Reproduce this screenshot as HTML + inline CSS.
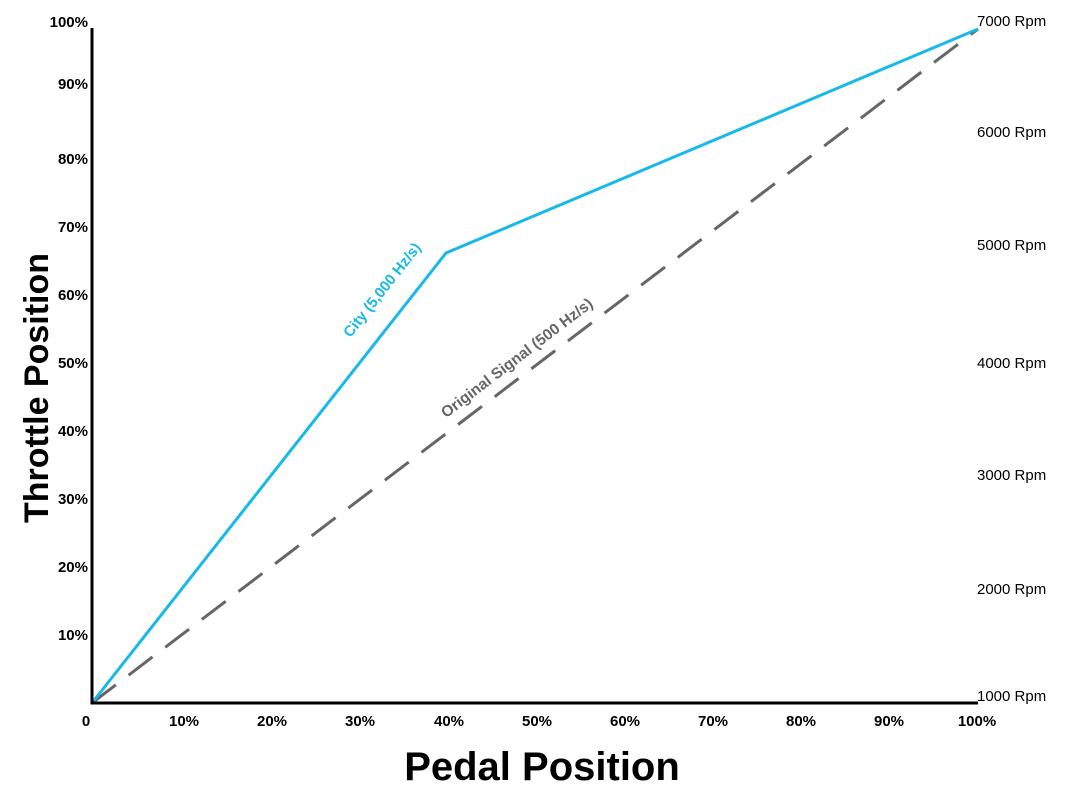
<!DOCTYPE html>
<html><head><meta charset="utf-8"><style>body{margin:0;background:#fff}</style></head>
<body>
<svg width="1080" height="800" xmlns="http://www.w3.org/2000/svg" font-family="Liberation Sans, sans-serif">
<rect width="1080" height="800" fill="#fff"/>
<line x1="92" y1="703" x2="978" y2="29" stroke="#666" stroke-width="3" stroke-dasharray="30,16"/>
<polyline points="92,703 446,253 978,29" fill="none" stroke="#17b9ea" stroke-width="3"/>
<line x1="92" y1="28" x2="92" y2="704.5" stroke="#000" stroke-width="3"/>
<line x1="90.5" y1="703" x2="978" y2="703" stroke="#000" stroke-width="3"/>
<g font-weight="bold" font-size="15" text-anchor="end" fill="#000">
<text x="88" y="27">100%</text><text x="88" y="89">90%</text><text x="88" y="164">80%</text>
<text x="88" y="232">70%</text><text x="88" y="300">60%</text><text x="88" y="368">50%</text>
<text x="88" y="436">40%</text><text x="88" y="504">30%</text><text x="88" y="572">20%</text>
<text x="88" y="640">10%</text>
</g>
<g font-weight="bold" font-size="15" text-anchor="middle" fill="#000">
<text x="86" y="726">0</text><text x="184" y="726">10%</text><text x="272" y="726">20%</text>
<text x="360" y="726">30%</text><text x="449" y="726">40%</text><text x="537" y="726">50%</text>
<text x="625" y="726">60%</text><text x="713" y="726">70%</text><text x="801" y="726">80%</text>
<text x="889" y="726">90%</text><text x="977" y="726">100%</text>
</g>
<g font-size="15" fill="#000">
<text x="977" y="26">7000 Rpm</text><text x="977" y="137">6000 Rpm</text><text x="977" y="250">5000 Rpm</text>
<text x="977" y="368">4000 Rpm</text><text x="977" y="480">3000 Rpm</text><text x="977" y="594">2000 Rpm</text>
<text x="977" y="701">1000 Rpm</text>
</g>
<text x="386" y="293" font-size="15" font-weight="bold" fill="#17b9ea" text-anchor="middle" transform="rotate(-51.8 386 293)">City (5,000 Hz/s)</text>
<text x="520" y="362" font-size="15.5" font-weight="bold" fill="#666" text-anchor="middle" transform="rotate(-37.3 520 362)">Original Signal (500 Hz/s)</text>
<text x="542" y="780" font-size="40" font-weight="bold" text-anchor="middle" fill="#000">Pedal Position</text>
<text x="48" y="388" font-size="34" font-weight="bold" text-anchor="middle" fill="#000" transform="rotate(-90 48 388)">Throttle Position</text>
</svg>
</body></html>
